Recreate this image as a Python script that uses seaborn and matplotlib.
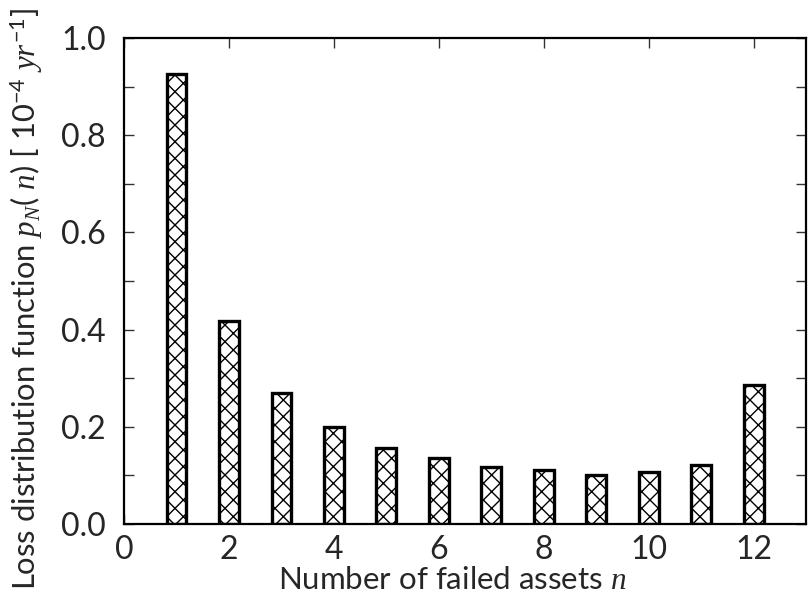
import numpy as np
import pandas as pd
import matplotlib
matplotlib.use("Agg")
import matplotlib.pyplot as plt
import seaborn as sns
from matplotlib.ticker import MultipleLocator

n_values = [1, 2, 3, 4, 5, 6, 7, 8, 9, 10, 11, 12]
p_values = [0.925, 0.418, 0.270, 0.200, 0.157, 0.135, 0.118, 0.111, 0.101, 0.106, 0.121, 0.285]
x_ticks = [0, 2, 4, 6, 8, 10, 12]
y_ticks = [0.0, 0.2, 0.4, 0.6, 0.8, 1.0]

sns.set_theme(style="ticks")
plt.rcParams['font.family'] = ['Lato', 'DejaVu Sans']
plt.rcParams['mathtext.fontset'] = 'custom'
plt.rcParams['mathtext.it'] = 'Liberation Serif:italic'
plt.rcParams['mathtext.rm'] = 'Lato'
plt.rcParams['hatch.linewidth'] = 1.0
plt.rcParams['hatch.color'] = 'black'

df = pd.DataFrame({"n": n_values, "p": p_values})

fig = plt.figure(figsize=(8.08, 6.0), dpi=100)
ax = fig.add_axes([0.1535, 0.1267, 0.8445, 0.81])

sns.barplot(data=df, x="n", y="p", native_scale=True, width=0.38,
            color="white", edgecolor="black", linewidth=2.4, ax=ax)
for patch in ax.patches:
    patch.set_hatch('xx')
    patch.set_facecolor('white')
    patch.set_edgecolor('black')

ax.set_xlim(0, 13)
ax.set_ylim(0, 1.0)
ax.set_xticks(x_ticks)
ax.set_xticklabels([str(t) for t in x_ticks])
ax.set_yticks(y_ticks)
ax.set_yticklabels([f"{t:.1f}" for t in y_ticks])
ax.yaxis.set_minor_locator(MultipleLocator(0.1))

ax.tick_params(axis='both', which='both', direction='in', top=True, right=True,
               labelsize=23, width=1.0, color='#333333')
ax.tick_params(axis='x', which='major', length=7, pad=8)
ax.tick_params(axis='y', which='major', length=7, pad=13)
ax.tick_params(axis='y', which='minor', length=7)

for s in ax.spines.values():
    s.set_linewidth(1.6)
    s.set_color('black')

ax.set_xlabel("Number of failed assets $n$", fontsize=22.5)
ax.xaxis.label.set_va('center')
ax.xaxis.set_label_coords(0.481, -0.115)
ax.set_ylabel("Loss distribution function $p_N$( $n$) [ 10$^{-4}$ $yr^{-1}$]",
              fontsize=22.3)
ax.yaxis.label.set_va('center')
ax.yaxis.set_label_coords(-0.143, 0.462)

fig.savefig("out.png", dpi=100)
